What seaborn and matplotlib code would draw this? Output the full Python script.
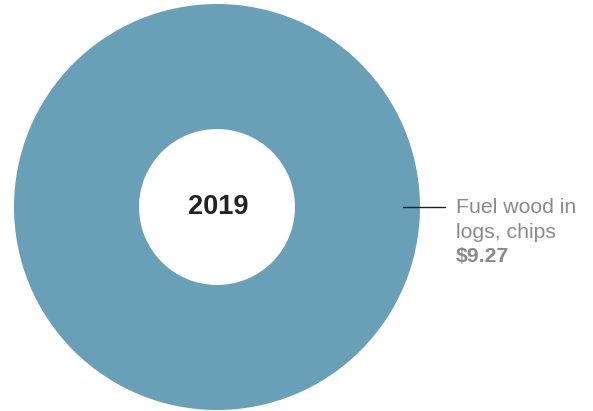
import matplotlib
matplotlib.use('Agg')
import matplotlib.pyplot as plt
import seaborn as sns

# data
label_lines = ['Fuel wood in', 'logs, chips']
values = [9.27]
year = '2019'
slice_colors = ['#6a9fb8']

sns.set_theme(style='white')
plt.rcParams['font.family'] = ['Liberation Sans', 'DejaVu Sans']

fig = plt.figure(figsize=(5.93, 4.11), dpi=100)
ax = fig.add_axes([14 / 593, 1 / 411, 406 / 593, 406 / 411])

ax.pie(values, colors=slice_colors, radius=1, startangle=90, counterclock=False,
       wedgeprops=dict(width=1 - 78 / 203, edgecolor='none'))
ax.set_xlim(-1, 1)
ax.set_ylim(-1, 1)
ax.set_aspect('equal')
ax.axis('off')

# centre label
ax.text(0.005, -0.034, year, ha='center', va='baseline', fontsize=19.5,
        fontweight='bold', color='#222222')

# leader line + slice label
ax.plot([0.916, 1.123], [0.0, 0.0], color='#222222', lw=1, clip_on=False)
grey = '#8a8a8a'
ax.text(1.177, -0.030, label_lines[0], ha='left', va='baseline', fontsize=15.3,
        color=grey, clip_on=False)
ax.text(1.177, -0.153, label_lines[1], ha='left', va='baseline', fontsize=15.3,
        color=grey, clip_on=False)
ax.text(1.177, -0.271, f'${values[0]:.2f}', ha='left', va='baseline', fontsize=15.3,
        fontweight='bold', color=grey, clip_on=False)

fig.savefig('out.png', dpi=100)
